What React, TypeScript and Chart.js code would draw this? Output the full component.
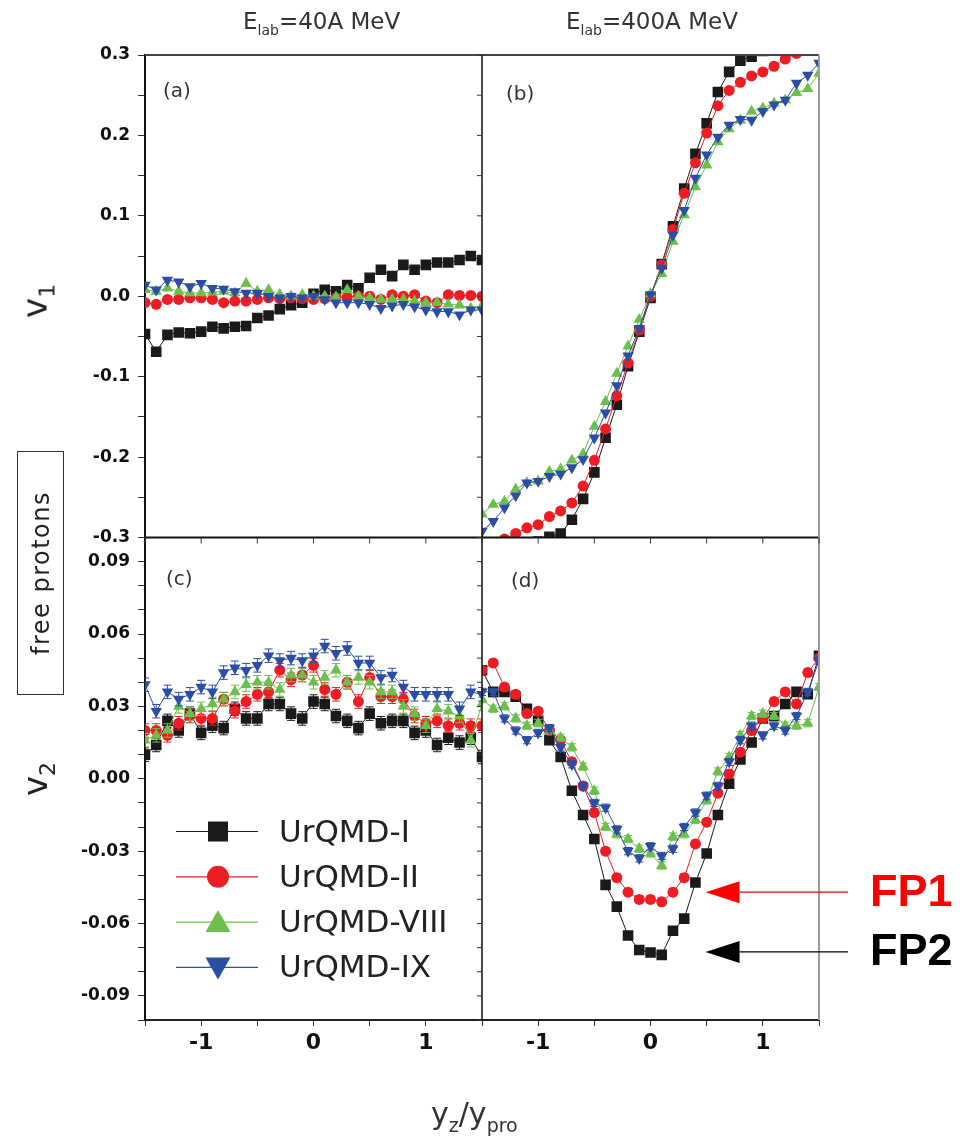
import React, { useEffect, useRef } from 'react';
import { Chart, registerables } from 'chart.js';

Chart.register(...registerables);

// ---------------- data ----------------
const RAPIDITY = [-1.5, -1.4, -1.3, -1.2, -1.1, -1.0, -0.9, -0.8, -0.7, -0.6, -0.5, -0.4, -0.3, -0.2, -0.1, 0.0, 0.1, 0.2, 0.3, 0.4, 0.5, 0.6, 0.7, 0.8, 0.9, 1.0, 1.1, 1.2, 1.3, 1.4, 1.5];
const SERIES_NAMES = ['UrQMD-I', 'UrQMD-II', 'UrQMD-VIII', 'UrQMD-IX'];
const PANEL_TAGS = ['(a)', '(b)', '(c)', '(d)'];
const ENERGY_TITLES = ['40A MeV', '400A MeV'];

// (a) v1, 40A MeV
const V1_40_I = [-0.047, -0.069, -0.048, -0.045, -0.046, -0.044, -0.038, -0.040, -0.038, -0.037, -0.027, -0.024, -0.016, -0.011, -0.008, 0.003, 0.008, 0.006, 0.014, 0.010, 0.023, 0.033, 0.025, 0.039, 0.033, 0.039, 0.042, 0.042, 0.045, 0.050, 0.045];
const V1_40_II = [-0.008, -0.010, -0.004, -0.004, -0.002, -0.002, -0.004, -0.008, -0.006, -0.006, -0.004, -0.002, -0.003, -0.002, -0.003, -0.004, -0.003, -0.002, -0.001, 0.000, 0.000, -0.004, 0.002, 0.000, 0.002, -0.006, -0.008, 0.002, 0.001, 0.001, 0.000];
const V1_40_VIII = [0.008, 0.006, 0.010, 0.006, 0.004, 0.004, 0.005, 0.006, 0.004, 0.016, 0.006, 0.008, 0.002, 0.000, 0.002, 0.000, 0.000, -0.001, 0.008, 0.000, -0.002, -0.004, -0.004, -0.004, -0.006, -0.008, -0.008, -0.010, -0.011, -0.015, -0.012];
const V1_40_IX = [0.014, 0.008, 0.020, 0.018, 0.012, 0.016, 0.010, 0.009, 0.006, 0.004, 0.004, 0.000, -0.002, 0.000, -0.002, 0.000, -0.004, -0.008, -0.008, -0.008, -0.010, -0.015, -0.012, -0.010, -0.013, -0.017, -0.019, -0.019, -0.023, -0.017, -0.017];

// (b) v1, 400A MeV
const V1_400_I = [-0.335, -0.330, -0.325, -0.320, -0.312, -0.305, -0.299, -0.295, -0.278, -0.252, -0.219, -0.176, -0.135, -0.087, -0.044, -0.002, 0.040, 0.087, 0.134, 0.177, 0.215, 0.254, 0.279, 0.293, 0.298, 0.305, 0.312, 0.318, 0.322, 0.326, 0.330];
const V1_400_II = [-0.312, -0.308, -0.302, -0.295, -0.288, -0.284, -0.274, -0.267, -0.257, -0.236, -0.204, -0.165, -0.124, -0.083, -0.042, 0.000, 0.039, 0.083, 0.128, 0.166, 0.203, 0.237, 0.256, 0.266, 0.274, 0.279, 0.286, 0.295, 0.302, 0.308, 0.312];
const V1_400_VIII = [-0.271, -0.259, -0.255, -0.240, -0.232, -0.230, -0.218, -0.215, -0.204, -0.196, -0.162, -0.131, -0.096, -0.062, -0.029, 0.003, 0.028, 0.068, 0.101, 0.136, 0.163, 0.192, 0.208, 0.219, 0.230, 0.234, 0.240, 0.244, 0.253, 0.258, 0.277];
const V1_400_IX = [-0.292, -0.280, -0.263, -0.248, -0.232, -0.230, -0.224, -0.221, -0.213, -0.203, -0.176, -0.145, -0.111, -0.074, -0.040, 0.002, 0.035, 0.076, 0.107, 0.147, 0.176, 0.198, 0.213, 0.220, 0.219, 0.230, 0.238, 0.244, 0.265, 0.275, 0.290];

// (c) v2, 40A MeV
const V2_40_I = [0.010, 0.014, 0.024, 0.020, 0.027, 0.019, 0.022, 0.021, 0.029, 0.025, 0.025, 0.031, 0.031, 0.027, 0.025, 0.032, 0.031, 0.026, 0.024, 0.021, 0.027, 0.023, 0.024, 0.024, 0.019, 0.020, 0.014, 0.017, 0.015, 0.017, 0.009];
const V2_40_II = [0.020, 0.020, 0.018, 0.023, 0.026, 0.025, 0.025, 0.033, 0.028, 0.032, 0.035, 0.036, 0.045, 0.041, 0.043, 0.047, 0.037, 0.035, 0.040, 0.032, 0.042, 0.034, 0.034, 0.033, 0.026, 0.023, 0.024, 0.022, 0.023, 0.022, 0.022];
const V2_40_VIII = [0.016, 0.018, 0.020, 0.030, 0.027, 0.029, 0.031, 0.033, 0.036, 0.039, 0.040, 0.040, 0.037, 0.043, 0.043, 0.040, 0.042, 0.045, 0.040, 0.042, 0.040, 0.036, 0.036, 0.030, 0.027, 0.022, 0.029, 0.028, 0.026, 0.016, 0.031];
const V2_40_IX = [0.039, 0.028, 0.036, 0.033, 0.035, 0.038, 0.036, 0.044, 0.046, 0.045, 0.047, 0.051, 0.049, 0.050, 0.049, 0.051, 0.055, 0.052, 0.054, 0.048, 0.048, 0.042, 0.043, 0.038, 0.035, 0.035, 0.035, 0.035, 0.029, 0.036, 0.035];

// (d) v2, 400A MeV
const V2_400_I = [0.045, 0.036, 0.036, 0.034, 0.029, 0.024, 0.016, 0.009, -0.005, -0.015, -0.025, -0.044, -0.053, -0.065, -0.071, -0.072, -0.073, -0.063, -0.058, -0.043, -0.031, -0.015, -0.002, 0.008, 0.015, 0.025, 0.026, 0.031, 0.036, 0.035, 0.051];
const V2_400_II = [0.045, 0.048, 0.038, 0.035, 0.027, 0.028, 0.020, 0.016, 0.007, -0.003, -0.014, -0.030, -0.041, -0.047, -0.050, -0.050, -0.051, -0.047, -0.041, -0.027, -0.018, -0.006, 0.002, 0.011, 0.020, 0.025, 0.032, 0.036, 0.031, 0.044, 0.050];
const V2_400_VIII = [0.033, 0.029, 0.030, 0.025, 0.022, 0.023, 0.020, 0.017, 0.013, 0.005, -0.005, -0.020, -0.023, -0.025, -0.029, -0.031, -0.036, -0.024, -0.023, -0.017, -0.009, 0.003, 0.009, 0.018, 0.026, 0.027, 0.026, 0.022, 0.022, 0.023, 0.038];
const V2_400_IX = [0.036, 0.036, 0.025, 0.020, 0.016, 0.019, 0.021, 0.013, 0.006, -0.003, -0.010, -0.012, -0.021, -0.030, -0.033, -0.028, -0.032, -0.029, -0.020, -0.014, -0.007, -0.003, 0.007, 0.016, 0.022, 0.018, 0.022, 0.020, 0.026, 0.036, 0.049];

const V2_ERR_40 = 0.0028;
const V2_ERR_400 = 0.0015;

// ticks
const X_TICKS = [-1.5, -1, -0.5, 0, 0.5, 1, 1.5];
const X_TICK_LABELS = ['', '-1', '', '0', '', '1', ''];
const V1_TICKS = [-0.3, -0.25, -0.2, -0.15, -0.1, -0.05, 0, 0.05, 0.1, 0.15, 0.2, 0.25, 0.3];
const V1_TICK_LABELS = ['-0.3', '', '-0.2', '', '-0.1', '', '0.0', '', '0.1', '', '0.2', '', '0.3'];
const V2_TICKS = [-0.1, -0.09, -0.08, -0.07, -0.06, -0.05, -0.04, -0.03, -0.02, -0.01, 0, 0.01, 0.02, 0.03, 0.04, 0.05, 0.06, 0.07, 0.08, 0.09, 0.1];
const V2_TICK_LABELS = ['', '-0.09', '', '', '-0.06', '', '', '-0.03', '', '', '0.00', '', '', '0.03', '', '', '0.06', '', '', '0.09', ''];

// annotations (data coordinates in panel d)
const FP_LABELS = ['FP1', 'FP2'];
const FP_TIP_X = [0.49, 0.49];
const FP_TIP_Y = [-0.047, -0.0718];

// ---------------- styles ----------------
const FONT = '"DejaVu Sans", "Liberation Sans", sans-serif';
const FONT_FP = '"Liberation Sans", Arial, sans-serif';
const COLORS = ['#1a1a1a', '#ee1d24', '#6dbf4b', '#2b4da3'];
const FP_COLORS = ['#ff0000', '#000000'];
const POINT_STYLES = ['rect', 'circle', 'triangle', 'triangle'];
const POINT_ROTATIONS = [0, 0, 0, 180];
const POINT_RADII = [7.5, 5.5, 6.6, 6.6];
const LEGEND_SHAPES = ['square', 'circle', 'up', 'down'];
const TAG_OFFSETS = [[18, 37], [24, 40], [21, 42], [29, 44]];

function labelFor(ticks: number[], labels: string[], v: number) {
  const i = ticks.findIndex((t) => Math.abs(t - v) < 1e-9);
  return i >= 0 ? labels[i] : '';
}

function makeX(weight: number) {
  return {
    type: 'linear',
    position: 'bottom',
    stack: 'cols',
    stackWeight: 1,
    weight,
    min: -1.5,
    max: 1.5,
    afterBuildTicks: (s: any) => {
      s.ticks = X_TICKS.map((v) => ({ value: v }));
    },
    afterFit: (s: any) => {
      s.height = 46;
    },
    grid: { drawOnChartArea: false, drawTicks: true, tickLength: 6, color: '#333', tickWidth: 1 },
    border: { display: true, color: '#222', width: 2 },
    ticks: {
      autoSkip: false,
      maxRotation: 0,
      padding: 4,
      color: '#111',
      font: { family: FONT, size: 22, weight: 'bold' },
      callback: (v: number) => labelFor(X_TICKS, X_TICK_LABELS, v),
    },
  };
}

function makeY(weight: number, min: number, max: number, ticks: number[], labels: string[]) {
  return {
    type: 'linear',
    position: 'left',
    stack: 'rows',
    stackWeight: 1,
    weight,
    min,
    max,
    afterBuildTicks: (s: any) => {
      s.ticks = ticks.map((v) => ({ value: v }));
    },
    afterFit: (s: any) => {
      s.width = 80;
    },
    grid: { drawOnChartArea: false, drawTicks: true, tickLength: 7, color: '#333', tickWidth: 1 },
    border: { display: true, color: '#111', width: 2 },
    ticks: {
      autoSkip: false,
      padding: 8,
      color: '#111',
      font: { family: FONT, size: 17, weight: 'bold' },
      callback: (v: number) => labelFor(ticks, labels, v),
    },
  };
}

const PANELS = [
  { x: 'xL', y: 'yT', series: [V1_40_I, V1_40_II, V1_40_VIII, V1_40_IX], err: 0 },
  { x: 'xR', y: 'yT', series: [V1_400_I, V1_400_II, V1_400_VIII, V1_400_IX], err: 0 },
  { x: 'xL', y: 'yB', series: [V2_40_I, V2_40_II, V2_40_VIII, V2_40_IX], err: V2_ERR_40 },
  { x: 'xR', y: 'yB', series: [V2_400_I, V2_400_II, V2_400_VIII, V2_400_IX], err: V2_ERR_400 },
];

function buildDatasets() {
  const out: any[] = [];
  PANELS.forEach((p) => {
    p.series.forEach((vals, si) => {
      out.push({
        label: SERIES_NAMES[si],
        data: RAPIDITY.map((x, i) => ({ x, y: vals[i] })),
        xAxisID: p.x,
        yAxisID: p.y,
        showLine: true,
        borderColor: COLORS[si],
        backgroundColor: COLORS[si],
        borderWidth: 1,
        pointStyle: POINT_STYLES[si],
        pointRotation: POINT_ROTATIONS[si],
        pointRadius: POINT_RADII[si],
        pointBorderWidth: 0,
        pointBackgroundColor: COLORS[si],
        order: 3 - si,
        errorBar: p.err,
      });
    });
  });
  return out;
}

function seg(ctx: CanvasRenderingContext2D, x1: number, y1: number, x2: number, y2: number, color: string, w: number) {
  ctx.strokeStyle = color;
  ctx.lineWidth = w;
  ctx.beginPath();
  ctx.moveTo(x1, y1);
  ctx.lineTo(x2, y2);
  ctx.stroke();
}

function drawShape(ctx: CanvasRenderingContext2D, shape: string, x: number, y: number, color: string) {
  ctx.fillStyle = color;
  ctx.beginPath();
  if (shape === 'square') {
    ctx.rect(x - 10, y - 10, 20, 20);
  } else if (shape === 'circle') {
    ctx.arc(x, y, 11, 0, Math.PI * 2);
  } else if (shape === 'up') {
    ctx.moveTo(x, y - 12);
    ctx.lineTo(x + 12.5, y + 10);
    ctx.lineTo(x - 12.5, y + 10);
    ctx.closePath();
  } else {
    ctx.moveTo(x, y + 12);
    ctx.lineTo(x + 12.5, y - 10);
    ctx.lineTo(x - 12.5, y - 10);
    ctx.closePath();
  }
  ctx.fill();
}

const panelPlugin = {
  id: 'panelPlugin',
  beforeDatasetDraw(chart: any, args: any) {
    const { xScale, yScale } = args.meta;
    const ctx = chart.ctx;
    ctx.save();
    ctx.beginPath();
    ctx.rect(xScale.left, yScale.top, xScale.right - xScale.left, yScale.bottom - yScale.top);
    ctx.clip();
  },
  afterDatasetDraw(chart: any, args: any) {
    const ctx = chart.ctx;
    const ds = chart.data.datasets[args.index];
    const err = ds.errorBar;
    if (err) {
      const yScale = args.meta.yScale;
      ctx.strokeStyle = ds.borderColor;
      ctx.lineWidth = 1;
      args.meta.data.forEach((pt: any, i: number) => {
        const v = ds.data[i].y;
        const yt = yScale.getPixelForValue(v + err);
        const yb = yScale.getPixelForValue(v - err);
        ctx.beginPath();
        ctx.moveTo(pt.x, yt);
        ctx.lineTo(pt.x, yb);
        ctx.moveTo(pt.x - 4, yt);
        ctx.lineTo(pt.x + 4, yt);
        ctx.moveTo(pt.x - 4, yb);
        ctx.lineTo(pt.x + 4, yb);
        ctx.stroke();
      });
    }
    ctx.restore();
  },
  afterDraw(chart: any) {
    const ctx: CanvasRenderingContext2D = chart.ctx;
    const { xL, xR, yT, yB } = chart.scales;
    const left = xL.left;
    const mid = xL.right;
    const right = xR.right;
    const top = yT.top;
    const hmid = yT.bottom;
    const bottom = yB.bottom;
    ctx.save();
    // frame
    seg(ctx, left, top, right, top, '#444', 2);
    seg(ctx, left, hmid, right, hmid, '#111', 2);
    seg(ctx, mid, top, mid, bottom, '#111', 1.5);
    seg(ctx, right, top, right, bottom, '#9a9a9a', 2);
    // inner ticks
    [xL, xR].forEach((s: any) => {
      X_TICKS.forEach((t) => {
        const px = s.getPixelForValue(t);
        seg(ctx, px, hmid, px, hmid + 6, '#333', 1);
      });
    });
    V1_TICKS.forEach((t) => {
      const py = yT.getPixelForValue(t);
      seg(ctx, mid - 5, py, mid, py, '#333', 1);
    });
    V2_TICKS.forEach((t) => {
      const py = yB.getPixelForValue(t);
      seg(ctx, mid - 5, py, mid, py, '#333', 1);
    });
    // panel tags
    const origins = [[xL.left, yT.top], [xR.left, yT.top], [xL.left, yB.top], [xR.left, yB.top]];
    ctx.fillStyle = '#333';
    ctx.font = `20px ${FONT}`;
    ctx.textBaseline = 'middle';
    ctx.textAlign = 'left';
    PANEL_TAGS.forEach((tag, i) => {
      ctx.fillText(tag, origins[i][0] + TAG_OFFSETS[i][0], origins[i][1] + TAG_OFFSETS[i][1]);
    });
    // legend in panel (c)
    const lx = xL.left;
    const ly = yB.top;
    ctx.font = `31px ${FONT}`;
    SERIES_NAMES.forEach((name, i) => {
      const y = ly + 294 + i * 45.3;
      seg(ctx, lx + 31, y, lx + 113, y, COLORS[i], 1.2);
      drawShape(ctx, LEGEND_SHAPES[i], lx + 73, y, COLORS[i]);
      ctx.fillStyle = '#222';
      ctx.textBaseline = 'middle';
      ctx.fillText(name, lx + 134, y + 2);
    });
    // FP annotations
    FP_LABELS.forEach((lab, i) => {
      const tx = xR.getPixelForValue(FP_TIP_X[i]);
      const ty = yB.getPixelForValue(FP_TIP_Y[i]);
      ctx.fillStyle = FP_COLORS[i];
      ctx.beginPath();
      ctx.moveTo(tx, ty);
      ctx.lineTo(tx + 34, ty - 11);
      ctx.lineTo(tx + 34, ty + 11);
      ctx.closePath();
      ctx.fill();
      seg(ctx, tx + 34, ty, right + 29, ty, FP_COLORS[i], 1.2);
      ctx.font = `bold 45px ${FONT_FP}`;
      ctx.textBaseline = 'middle';
      ctx.fillText(lab, right + 51, ty + 1);
    });
    ctx.restore();
  },
};

export default function App() {
  const ref = useRef<HTMLCanvasElement>(null);
  useEffect(() => {
    const chart = new Chart(ref.current as HTMLCanvasElement, {
      type: 'scatter',
      data: { datasets: buildDatasets() },
      options: {
        responsive: false,
        animation: false,
        events: [],
        layout: { padding: { left: 65, right: 147, top: 55, bottom: 71 } },
        plugins: { legend: { display: false }, tooltip: { enabled: false } },
        scales: {
          xL: makeX(0),
          xR: makeX(1),
          yT: makeY(1, -0.3, 0.3, V1_TICKS, V1_TICK_LABELS),
          yB: makeY(0, -0.1, 0.1, V2_TICKS, V2_TICK_LABELS),
        },
      } as any,
      plugins: [panelPlugin as any],
    } as any);
    return () => chart.destroy();
  }, []);

  const abs: React.CSSProperties = { position: 'absolute', whiteSpace: 'nowrap', fontFamily: FONT, color: '#333' };
  const sub = (t: string, size: number, drop: number) => (
    <span style={{ fontSize: size, position: 'relative', top: drop }}>{t}</span>
  );

  return (
    <div style={{ position: 'absolute', left: 0, top: 0, width: 966, height: 1137, background: '#fff', overflow: 'hidden' }}>
      <canvas ref={ref} width={966} height={1137} style={{ position: 'absolute', left: 0, top: 0, width: 966, height: 1137 }} />
      <div style={{ ...abs, left: 243, top: 10, fontSize: 23, lineHeight: '23px' }}>
        E{sub('lab', 14, 6)}={ENERGY_TITLES[0]}
      </div>
      <div style={{ ...abs, left: 566, top: 10, fontSize: 23, lineHeight: '23px' }}>
        E{sub('lab', 14, 6)}={ENERGY_TITLES[1]}
      </div>
      <div style={{ ...abs, left: 37, top: 301, fontSize: 34, lineHeight: '34px', color: '#222', transform: 'translate(-50%, -50%) rotate(-90deg)' }}>
        v{sub('1', 22, 8)}
      </div>
      <div style={{ ...abs, left: 37, top: 779, fontSize: 34, lineHeight: '34px', color: '#222', transform: 'translate(-50%, -50%) rotate(-90deg)' }}>
        v{sub('2', 22, 8)}
      </div>
      <div style={{ position: 'absolute', left: 17, top: 451, width: 47, height: 244, boxSizing: 'border-box', border: '1px solid #333', background: '#fff' }} />
      <div style={{ ...abs, left: 41, top: 573, fontSize: 24, lineHeight: '24px', letterSpacing: '1.5px', color: '#222', transform: 'translate(-50%, -50%) rotate(-90deg)' }}>
        free protons
      </div>
      <div style={{ ...abs, left: 431, top: 1099, fontSize: 30, lineHeight: '30px', color: '#333' }}>
        y{sub('z', 19, 8)}/y{sub('pro', 19, 8)}
      </div>
    </div>
  );
}
